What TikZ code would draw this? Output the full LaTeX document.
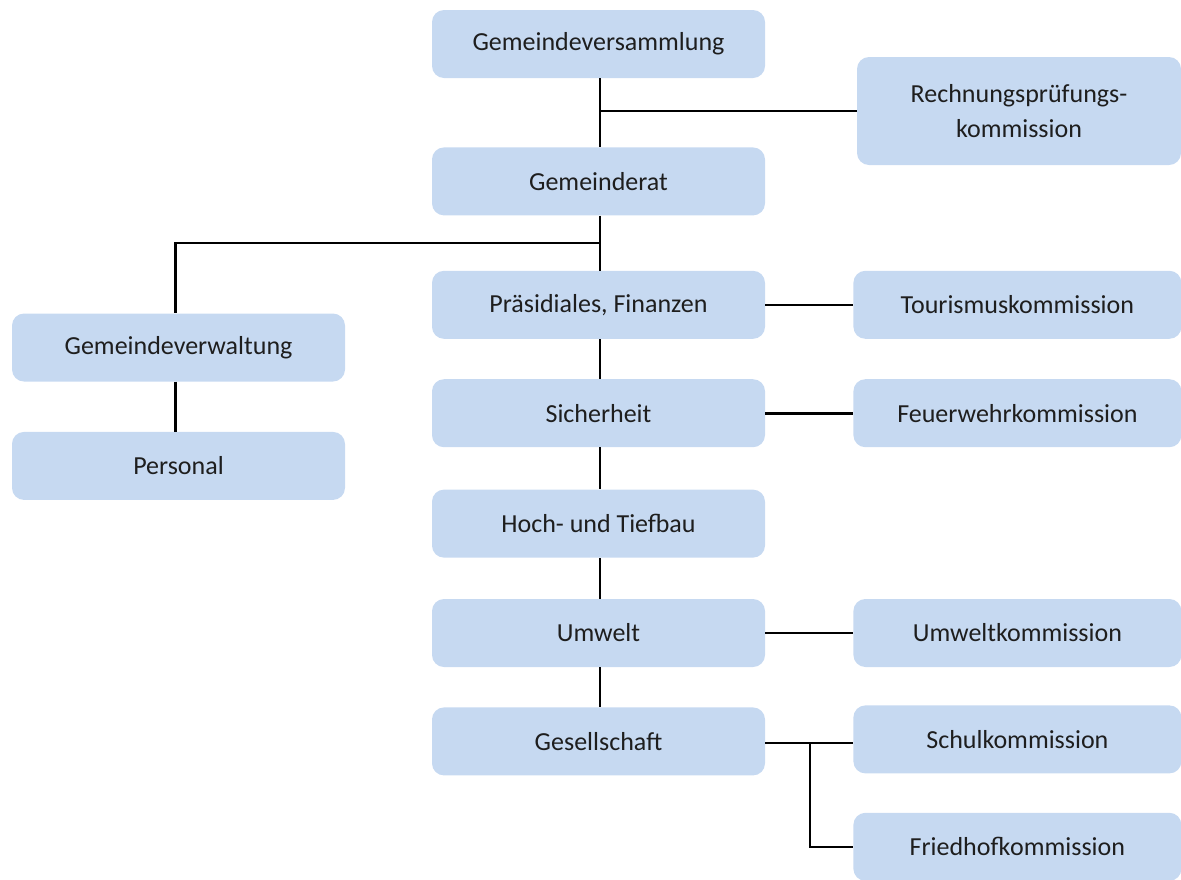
\documentclass[tikz,border=0pt]{standalone}
\usepackage{fontspec}
\setmainfont{Carlito}
\usetikzlibrary{positioning}
\definecolor{boxblue}{HTML}{C6D9F1}
\definecolor{boxtext}{HTML}{1E1E1E}
\tikzset{
    unit/.style={rectangle, rounded corners=12pt, fill=boxblue, text=boxtext, inner sep=0pt,
        minimum width=333pt, minimum height=68pt, align=center, font=\fontsize{26}{35}\selectfont},
    komm/.style={unit, minimum width=328pt},
    link/.style={line width=2.6pt, black}
}
\begin{document}
\begin{tikzpicture}[x=1pt, y=1pt, node distance=40pt]
    \useasboundingbox (0,0) rectangle (1181,-879);

    % Hauptachse
    \node[unit] (versammlung) at (598.5,-44) {Gemeindeversammlung};
    \node[unit, below=69pt of versammlung] (rat) {Gemeinderat};
    \node[unit, below=55pt of rat] (praes) {Präsidiales, Finanzen};
    \node[unit, below=of praes] (sicher) {Sicherheit};
    \node[unit, below=42pt of sicher] (bau) {Hoch- und Tiefbau};
    \node[unit, below=41pt of bau] (umwelt) {Umwelt};
    \node[unit, below=40pt of umwelt] (gesell) {Gesellschaft};

    % Verwaltung
    \node[unit] (verwaltung) at (178.5,-347.5) {Gemeindeverwaltung};
    \node[unit, below=50pt of verwaltung] (personal) {Personal};

    % Kommissionen
    \node[komm, minimum width=324pt, minimum height=108pt] (rpk) at (1019,-111) {Rechnungsprüfungs-\\kommission};
    \node[komm, right=88pt of praes] (tourismus) {Tourismuskommission};
    \node[komm, right=88pt of sicher] (feuerwehr) {Feuerwehrkommission};
    \node[komm, right=88pt of umwelt] (umweltk) {Umweltkommission};
    \node[komm, right=88pt of gesell, yshift=2pt] (schul) {Schulkommission};
    \node[komm, below=39pt of schul] (friedhof) {Friedhofkommission};

    % Verbindungen
    \coordinate (rpkast) at ([xshift=1.5pt]versammlung.south |- rpk.west);
    \coordinate (ratast) at ([xshift=1.5pt]rat.south |- 0,-243);
    \coordinate (gesast) at (810,-743);
    \draw[link] ([xshift=1.5pt]versammlung.south) -- ([xshift=1.5pt]rat.north);
    \draw[link] (rpkast) -- (rpk.west);
    \draw[link] ([xshift=1.5pt]rat.south) -- ([xshift=1.5pt]praes.north);
    \draw[link] (ratast) -| ([xshift=-3pt]verwaltung.north);
    \draw[link] ([xshift=-3pt]verwaltung.south) -- ([xshift=-3pt]personal.north);
    \foreach \a/\b in {praes/sicher, sicher/bau, bau/umwelt, umwelt/gesell}
        \draw[link] ([xshift=1.5pt]\a.south) -- ([xshift=1.5pt]\b.north);
    \draw[link] (praes) -- (tourismus);
    \draw[link] (sicher) -- (feuerwehr);
    \draw[link] (umwelt) -- (umweltk);
    \draw[link] (gesell.east |- gesast) -- (gesast -| schul.west);
    \draw[link] (gesast) |- (friedhof.west);
\end{tikzpicture}
\end{document}
